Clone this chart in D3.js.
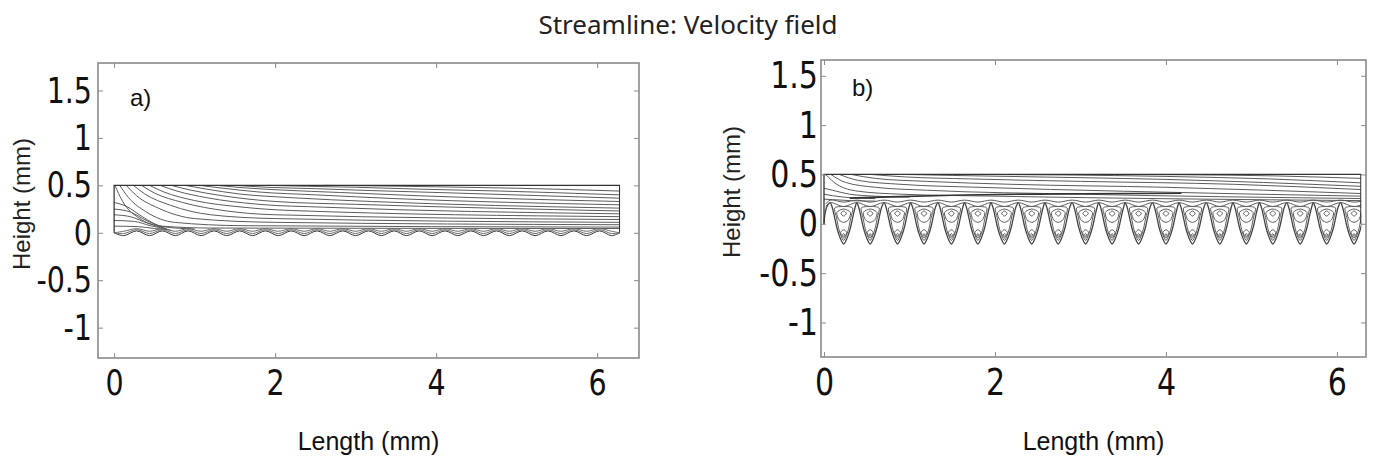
<!DOCTYPE html>
<html>
<head>
<meta charset="utf-8">
<script src="https://cdn.jsdelivr.net/npm/d3@7"></script>
<style>
  body { margin: 0; background: #fff; }
  .tick text { font-family: "DejaVu Sans Condensed", "DejaVu Sans", sans-serif; font-stretch: condensed; fill: #111; }
  .tick line { stroke: #8a8a8a; }
</style>
</head>
<body>
<svg id="chart" width="1376" height="460"></svg>
<script>
// ---- values (all in mm) ----
const xTicks = [0, 2, 4, 6];
const yTicks = [-1, -0.5, 0, 0.5, 1, 1.5];
const yTickLabels = ["-1", "-0.5", "0", "0.5", "1", "1.5"];
const channelLength = 6.28;
const channelTop = 0.5;

// a) shallow wavy floor
const aTroughX = [0.12, 0.44, 0.76, 1.08, 1.40, 1.72, 2.04, 2.36, 2.68, 3.00, 3.32, 3.63, 3.95, 4.27, 4.59, 4.91, 5.23, 5.55, 5.87, 6.18];
const aCrestX  = [0.28, 0.60, 0.92, 1.24, 1.56, 1.88, 2.20, 2.52, 2.84, 3.16, 3.48, 3.79, 4.11, 4.43, 4.75, 5.07, 5.39, 5.71, 6.03];
const aFloorLayers = [[-0.03, 0.02], [-0.008, 0.032], [0.016, 0.044]];   // [trough y, crest y]
const aStreamlines = [
  [[0.01, 0.50], [0.10, 0.34], [0.30, 0.16], [0.60, 0.07], [1.20, 0.05], [6.28, 0.045]],
  [[0.07, 0.50], [0.18, 0.37], [0.40, 0.22], [0.75, 0.11], [1.60, 0.075], [6.28, 0.06]],
  [[0.15, 0.50], [0.28, 0.39], [0.55, 0.26], [1.00, 0.15], [2.00, 0.11], [6.28, 0.085]],
  [[0.24, 0.50], [0.38, 0.41], [0.70, 0.29], [1.20, 0.19], [2.00, 0.15], [6.28, 0.11]],
  [[0.34, 0.50], [0.50, 0.42], [0.85, 0.32], [1.40, 0.23], [2.00, 0.19], [6.28, 0.14]],
  [[0.44, 0.50], [0.62, 0.43], [1.00, 0.34], [1.60, 0.27], [2.20, 0.235], [6.28, 0.17]],
  [[0.57, 0.50], [0.78, 0.44], [1.15, 0.37], [1.80, 0.30], [2.60, 0.27], [6.28, 0.20]],
  [[0.71, 0.50], [0.95, 0.45], [1.35, 0.39], [2.00, 0.33], [3.00, 0.30], [6.28, 0.23]],
  [[0.88, 0.50], [1.15, 0.46], [1.55, 0.41], [2.20, 0.37], [3.20, 0.33], [6.28, 0.26]],
  [[1.06, 0.50], [1.35, 0.47], [1.80, 0.43], [2.50, 0.40], [3.50, 0.36], [6.28, 0.295]],
  [[1.27, 0.50], [1.60, 0.475], [2.10, 0.45], [2.80, 0.425], [3.80, 0.39], [6.28, 0.33]],
  [[1.50, 0.50], [1.90, 0.48], [2.50, 0.465], [3.20, 0.445], [4.20, 0.42], [6.28, 0.365]],
  [[1.90, 0.50], [2.40, 0.49], [3.00, 0.48], [3.80, 0.46], [4.80, 0.44], [6.28, 0.40]],
  [[2.60, 0.50], [3.20, 0.495], [4.00, 0.485], [5.00, 0.47], [6.28, 0.44]]
];
const aInletLines = [
  [[0, 0.32], [0.15, 0.28], [0.35, 0.17], [0.60, 0.065], [1.00, 0.04]],
  [[0, 0.25], [0.20, 0.22], [0.40, 0.13], [0.62, 0.055]],
  [[0, 0.19], [0.20, 0.17], [0.42, 0.10], [0.64, 0.045]],
  [[0, 0.13], [0.25, 0.12], [0.45, 0.075], [0.66, 0.04]],
  [[0, 0.07], [0.30, 0.065], [0.50, 0.045], [0.70, 0.03]]
];

// b) deep V-shaped cavities
const bCavityX = [0.23, 0.54, 0.86, 1.17, 1.49, 1.80, 2.11, 2.43, 2.74, 3.06, 3.37, 3.68, 4.00, 4.31, 4.63, 4.94, 5.25, 5.57, 5.88, 6.20];
const bCavityHalf = 0.157;
const bInletWall = [[0, 0], [0.01, 0.09], [0.035, 0.175]];
const bWallShape = [[-0.157, 0.215], [-0.135, 0.17], [-0.11, 0.08], [-0.085, -0.02], [-0.055, -0.11], [-0.025, -0.175], [0, -0.205],
                    [0.025, -0.175], [0.055, -0.11], [0.085, -0.02], [0.11, 0.08], [0.135, 0.17]];
const bCavityLoops = [
  [[-0.105, 0.16], [-0.083, 0.06], [-0.06, -0.04], [-0.032, -0.12], [0, -0.17], [0.032, -0.12], [0.06, -0.04], [0.083, 0.06], [0.105, 0.16], [0, 0.175]],
  [[-0.08, 0.115], [-0.055, 0.04], [0, 0.015], [0.055, 0.04], [0.08, 0.115], [0, 0.15]],
  [[-0.032, 0.105], [0, 0.078], [0.032, 0.105], [0, 0.13]],
  [[-0.035, -0.09], [0, -0.145], [0.035, -0.09], [0, -0.06]],
  [[-0.012, -0.112], [0, -0.128], [0.012, -0.112], [0, -0.098]]
];
const bMouthLayers = [[0.215, 0.175], [0.24, 0.22]];   // [y over crest, y over cavity]
const bStreamlines = [
  [[0.02, 0.50], [0.15, 0.40], [0.40, 0.33], [0.90, 0.30], [2.00, 0.28], [6.28, 0.235]],
  [[0.08, 0.50], [0.25, 0.42], [0.60, 0.37], [1.20, 0.34], [3.00, 0.30], [6.28, 0.256]],
  [[0.18, 0.50], [0.40, 0.44], [0.90, 0.40], [1.80, 0.37], [3.50, 0.33], [6.28, 0.28]],
  [[0.32, 0.50], [0.60, 0.46], [1.20, 0.43], [2.20, 0.40], [4.00, 0.37], [6.28, 0.307]],
  [[0.55, 0.50], [0.95, 0.475], [1.70, 0.455], [3.00, 0.43], [4.80, 0.40], [6.28, 0.347]],
  [[0.95, 0.50], [1.50, 0.49], [2.50, 0.475], [4.00, 0.45], [6.28, 0.38]],
  [[1.80, 0.50], [2.80, 0.495], [4.00, 0.48], [5.20, 0.455], [6.28, 0.415]],
  [[3.20, 0.50], [4.20, 0.497], [5.30, 0.485], [6.28, 0.46]],
  [[0, 0.36], [0.10, 0.34], [0.30, 0.30], [0.60, 0.28], [1.00, 0.27]],
  [[0, 0.30], [0.10, 0.285], [0.30, 0.265], [0.60, 0.255]],
  [[0, 0.25], [0.10, 0.245], [0.30, 0.235], [0.60, 0.23]]
];
const bShearLine = [[0.30, 0.26], [0.67, 0.27], [1.50, 0.29], [3.00, 0.305], [4.18, 0.31]];

const svg = d3.select("#chart");
const squeeze = 0.88;   // tick digits are set in a narrow face

svg.append("text")
  .attr("x", 688).attr("y", 34)
  .attr("text-anchor", "middle")
  .style("font-family", "'Noto Sans', 'Open Sans', sans-serif")
  .style("font-size", "26px")
  .style("fill", "#222")
  .text("Streamline: Velocity field");

function drawPanel(cfg) {
  const x = d3.scaleLinear().domain(cfg.xDomain).range([cfg.left, cfg.right]);
  const y = d3.scaleLinear().domain(cfg.yDomain).range([cfg.bottom, cfg.top]);
  const g = svg.append("g");

  // clip to the channel (0..2π)
  g.append("clipPath").attr("id", "clip-" + cfg.id)
    .append("rect")
    .attr("x", x(0) - 1).attr("y", cfg.top)
    .attr("width", x(channelLength) - x(0) + 1.5).attr("height", cfg.bottom - cfg.top);

  const plot = g.append("g").attr("clip-path", `url(#clip-${cfg.id})`);
  const line = d3.line().x(d => x(d[0])).y(d => y(d[1]));

  cfg.draw(plot, x, y, line);

  // frame + inward ticks on all sides
  g.append("rect")
    .attr("x", cfg.left).attr("y", cfg.top)
    .attr("width", cfg.right - cfg.left).attr("height", cfg.bottom - cfg.top)
    .attr("fill", "none").attr("stroke", "#8a8a8a").attr("stroke-width", 1.6);

  const fs = cfg.tickFont + "px";
  g.append("g").attr("transform", `translate(0,${cfg.bottom})`)
    .call(d3.axisBottom(x).tickValues(xTicks).tickFormat(d3.format("d")).tickSizeInner(-5).tickSizeOuter(0).tickPadding(11))
    .call(a => a.select(".domain").remove())
    .selectAll("text").style("font-size", fs).attr("transform", `scale(${squeeze},1)`);
  g.append("g").attr("transform", `translate(0,${cfg.top})`)
    .call(d3.axisTop(x).tickValues(xTicks).tickFormat("").tickSizeInner(-5).tickSizeOuter(0))
    .call(a => a.select(".domain").remove());
  g.append("g").attr("transform", `translate(${cfg.left},0)`)
    .call(d3.axisLeft(y).tickValues(yTicks).tickFormat((d, i) => yTickLabels[i]).tickSizeInner(-5).tickSizeOuter(0).tickPadding(cfg.yPad))
    .call(a => a.select(".domain").remove())
    .selectAll("text").style("font-size", fs)
    .attr("x", -cfg.yPad / squeeze).attr("transform", `scale(${squeeze},1)`);
  g.append("g").attr("transform", `translate(${cfg.right},0)`)
    .call(d3.axisRight(y).tickValues(yTicks).tickFormat("").tickSizeInner(-5).tickSizeOuter(0))
    .call(a => a.select(".domain").remove());

  const labelFont = "'Liberation Sans', Arial, sans-serif";
  g.append("text")
    .attr("x", (cfg.left + cfg.right) / 2).attr("y", 450)
    .attr("text-anchor", "middle")
    .style("font-family", labelFont).style("font-size", "25px").style("fill", "#111")
    .text("Length (mm)");
  g.append("text")
    .attr("transform", `translate(${cfg.yLabelX},${cfg.yLabelY}) rotate(-90)`)
    .attr("text-anchor", "middle")
    .style("font-family", labelFont).style("font-size", "24px").style("fill", "#222")
    .text("Height (mm)");
  g.append("text")
    .attr("x", cfg.tagX).attr("y", cfg.tagY)
    .style("font-family", labelFont).style("font-size", "24px").style("fill", "#111")
    .text(cfg.tag);
}

const streamStyle = sel => sel.attr("fill", "none").attr("stroke", "#5c5c5c").attr("stroke-width", 1);

drawPanel({
  id: "a", tag: "a)", tagX: 130, tagY: 106,
  left: 98, right: 639, top: 63, bottom: 358,
  xDomain: [-0.2, 6.52], yDomain: [-1.32, 1.79],
  tickFont: 36, yPad: 6, yLabelX: 30, yLabelY: 204,
  draw: (plot, x, y, line) => {
    const smooth = line.curve(d3.curveMonotoneX);
    plot.selectAll("path.stream").data(aStreamlines).join("path")
      .attr("class", "stream").attr("d", smooth).call(streamStyle);
    plot.selectAll("path.inlet").data(aInletLines).join("path")
      .attr("class", "inlet").attr("d", smooth).call(streamStyle);
    // floor and the streamlines hugging it
    const floorPts = layer => [[0, 0]].concat(
      aTroughX.flatMap((tx, i) => i < aCrestX.length ? [[tx, layer[0]], [aCrestX[i], layer[1]]] : [[tx, layer[0]]]),
      [[channelLength, 0]]);
    plot.selectAll("path.floor").data(aFloorLayers).join("path")
      .attr("class", "floor")
      .attr("d", l => d3.line().x(d => x(d[0])).y(d => y(d[1])).curve(d3.curveCatmullRom)(floorPts(l)))
      .call(streamStyle)
      .attr("stroke", (d, i) => i === 0 ? "#3a3a3a" : "#6a6a6a");
    // channel walls
    plot.append("path")
      .attr("d", line.curve(d3.curveLinear)([[0, 0], [0, channelTop], [channelLength, channelTop], [channelLength, 0]]))
      .attr("fill", "none").attr("stroke", "#333").attr("stroke-width", 1.3);
  }
});

drawPanel({
  id: "b", tag: "b)", tagX: 852, tagY: 96,
  left: 821, right: 1366, top: 60, bottom: 357,
  xDomain: [-0.035, 6.34], yDomain: [-1.35, 1.66],
  tickFont: 38, yPad: 3, yLabelX: 740, yLabelY: 192,
  draw: (plot, x, y, line) => {
    const smooth = line.curve(d3.curveMonotoneX);
    plot.selectAll("path.stream").data(bStreamlines).join("path")
      .attr("class", "stream").attr("d", smooth).call(streamStyle);
    plot.append("path").attr("d", smooth(bShearLine))
      .attr("fill", "none").attr("stroke", "#333").attr("stroke-width", 1.6);

    const cr = d3.line().x(d => x(d[0])).y(d => y(d[1])).curve(d3.curveCatmullRom);
    // cavity walls (one continuous scalloped line)
    const wallPts = bInletWall.concat(
      bCavityX.flatMap(c => bWallShape.map(p => [c + p[0], p[1]])),
      [[bCavityX[bCavityX.length - 1] + bCavityHalf, bWallShape[0][1]]]);
    plot.append("path").attr("d", cr(wallPts))
      .attr("fill", "none").attr("stroke", "#444").attr("stroke-width", 1.3);

    // streamlines bridging the cavity mouths
    plot.selectAll("path.mouth").data(bMouthLayers).join("path")
      .attr("class", "mouth")
      .attr("d", l => cr([[0.02, l[0] - 0.04]].concat(
        bCavityX.flatMap(c => [[c - bCavityHalf, l[0]], [c, l[1]]]),
        [[bCavityX[bCavityX.length - 1] + bCavityHalf, l[0]]])))
      .call(streamStyle);

    // recirculation loops inside each cavity
    const loop = d3.line().x(d => x(d[0])).y(d => y(d[1])).curve(d3.curveCardinalClosed.tension(0.2));
    const cav = plot.selectAll("g.cavity").data(bCavityX).join("g").attr("class", "cavity");
    cav.selectAll("path").data(c => bCavityLoops.map(L => L.map(p => [c + p[0], p[1]])))
      .join("path").attr("d", loop).call(streamStyle);

    plot.append("path")
      .attr("d", line.curve(d3.curveLinear)([[0, 0], [0, channelTop], [channelLength, channelTop], [channelLength, 0]]))
      .attr("fill", "none").attr("stroke", "#333").attr("stroke-width", 1.3);
  }
});
</script>
</body>
</html>
